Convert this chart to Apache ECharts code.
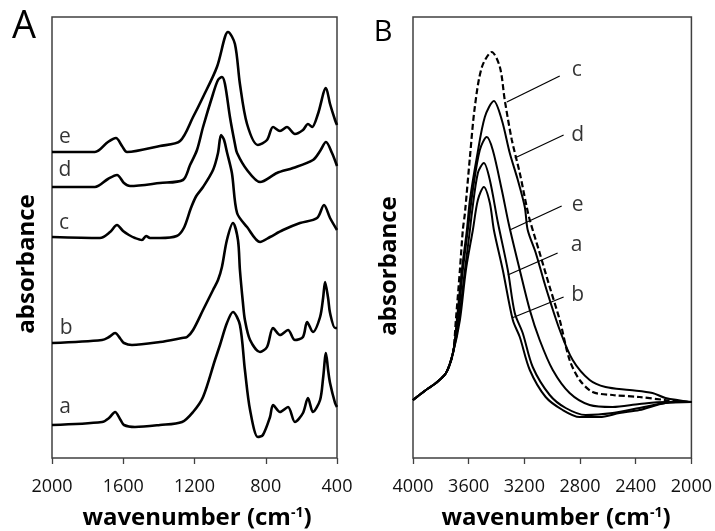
<!DOCTYPE html>
<html>
<head>
<meta charset="utf-8">
<script src="https://cdn.jsdelivr.net/npm/echarts@6.0.0/dist/echarts.min.js"></script>
<style>
html,body{margin:0;padding:0;background:#fff;}
#chart{width:715px;height:531px;}
</style>
</head>
<body>
<div id="chart"></div>
<script>
// ---------- Panel A (wavenumber 2000-400 cm-1) ----------
const ticksA = [2000, 1600, 1200, 800, 400];
const wnA_a = [2000,1719,1680,1646,1615,1596,1534,1394,1270,1208,1152,1085,1057,1018,984,945,917,888,844,816,776,759,720,675,636,591,563,535,495,478,462,450,439,411,400];
const absA_a = [33,36,40,46,38,33,31,33,36,46,61,98,113,135,146,133,88,48,21,23,41,53,46,51,36,45,60,46,58,80,105,88,75,55,51];
const wnA_b = [2000,1719,1680,1646,1615,1596,1551,1394,1270,1242,1208,1152,1096,1068,1046,1018,984,956,945,928,917,888,832,793,759,720,675,636,591,568,535,495,478,467,450,439,411,400];
const absA_b = [115,118,121,125,119,115,113,116,120,121,128,148,168,178,191,218,235,218,188,155,138,118,106,111,130,123,128,118,121,136,126,141,160,176,160,145,130,130];
const wnA_c = [2000,1731,1674,1635,1601,1568,1534,1495,1472,1450,1394,1300,1260,1220,1190,1152,1096,1068,1051,1034,1018,990,961,905,832,776,703,608,512,473,439,400];
const absA_c = [221,220,226,233,227,223,220,218,222,220,220,222,230,250,262,271,288,305,323,318,306,285,245,231,216,221,228,235,240,253,240,228];
const wnA_d = [2000,1759,1686,1635,1596,1562,1394,1265,1225,1186,1152,1096,1068,1046,1029,1001,973,961,905,832,737,647,535,495,462,428,400];
const absA_d = [271,271,279,283,275,272,275,278,293,308,331,364,378,381,374,341,314,305,288,276,285,290,298,307,316,305,292];
const wnA_e = [2000,1759,1686,1641,1607,1579,1394,1281,1208,1152,1074,1029,1012,973,945,905,844,793,759,720,681,636,591,563,540,507,462,439,411,400];
const absA_e = [306,306,316,320,312,306,312,317,341,361,391,421,426,414,374,334,313,318,331,327,331,324,328,334,331,344,370,354,338,333];
const labelsA = ['e','d','c','b','a'];
const labelWnA = [1927,1927,1933,1921,1927];
const labelAbsA = [321,288,235,130,51];

// ---------- Panel B (wavenumber 4000-2000 cm-1) ----------
const ticksB = [4000, 3600, 3200, 2800, 2400, 2000];
const wnB_a = [4000,3907,3835,3763,3713,3670,3627,3591,3577,3534,3491,3448,3391,3319,3269,3212,3140,3018,2903,2760,2566,2373,2186,2000];
const absB_a = [58,68,75,85,105,138,188,228,245,285,295,278,236,188,145,125,91,63,50,43,45,50,55,56];
const wnB_b = [4000,3907,3835,3763,3713,3663,3620,3570,3534,3491,3448,3419,3355,3283,3233,3161,3047,2925,2803,2660,2516,2373,2186,2000];
const absB_b = [58,68,75,85,105,138,188,228,258,271,255,228,188,138,121,88,61,48,41,41,45,48,55,56];
const wnB_c = [4000,3907,3835,3763,3713,3692,3663,3642,3627,3591,3556,3505,3434,3376,3341,3290,3233,3183,3161,3090,3018,2946,2875,2803,2710,2566,2373,2186,2000];
const absB_c = [58,68,75,85,105,138,188,228,245,301,351,391,406,391,358,318,285,251,238,205,171,138,98,78,66,63,61,58,56];
const wnB_d = [4000,3907,3835,3763,3713,3685,3649,3613,3591,3541,3484,3419,3362,3305,3247,3197,3176,3118,3047,2946,2853,2731,2617,2444,2280,2186,2000];
const absB_d = [58,68,75,85,105,138,188,228,258,301,341,357,338,305,278,251,228,205,171,128,98,78,71,68,65,60,56];
const wnB_e = [4000,3907,3835,3763,3713,3677,3642,3606,3570,3520,3470,3427,3362,3312,3233,3161,3090,2996,2875,2731,2566,2373,2186,2000];
const absB_e = [58,68,75,85,105,138,188,228,268,308,321,308,268,234,188,148,118,88,65,53,51,54,56,56];
const labelsB = ['c','d','e','a','b'];
const leadStartWnB = [3326,3269,3305,3319,3290];
const leadStartAbsB = [356,300,228,183,140];
const leadEndWnB = [2946,2918,2932,2961,2918];
const leadEndAbsB = [382,323,252,205,161];
const labelWnB = [2824,2817,2817,2824,2817];
const labelAbsB = [388,323,253,213,163];

const zip = (xs, ys) => xs.map((x, i) => [x, ys[i]]);
const FONT = 'Open Sans';
const INK = '#000';

function curve(name, xi, wn, ab, width, dashed) {
  return {
    name, type: 'line', xAxisIndex: xi, yAxisIndex: xi,
    data: zip(wn, ab), showSymbol: false, symbol: 'none',
    smooth: 0.3, silent: true,
    lineStyle: { color: INK, width: width, type: dashed ? [6, 3] : 'solid' }
  };
}

const series = [
  curve('a', 0, wnA_a, absA_a, 2.6),
  curve('b', 0, wnA_b, absA_b, 2.6),
  curve('c', 0, wnA_c, absA_c, 2.6),
  curve('d', 0, wnA_d, absA_d, 2.6),
  curve('e', 0, wnA_e, absA_e, 2.6),
  curve('a', 1, wnB_a, absB_a, 2),
  curve('b', 1, wnB_b, absB_b, 2),
  curve('e', 1, wnB_e, absB_e, 2),
  curve('d', 1, wnB_d, absB_d, 2),
  curve('c', 1, wnB_c, absB_c, 2.2, true),
];

// leader lines in panel B
labelsB.forEach((l, i) => {
  series.push({
    type: 'line', xAxisIndex: 1, yAxisIndex: 1, silent: true,
    data: [[leadStartWnB[i], leadStartAbsB[i]], [leadEndWnB[i], leadEndAbsB[i]]],
    symbol: 'none', lineStyle: { color: INK, width: 1.3 }
  });
});

function labelSeries(xi, names, wn, ab) {
  return {
    type: 'scatter', xAxisIndex: xi, yAxisIndex: xi, silent: true,
    symbolSize: 1, itemStyle: { color: 'rgba(0,0,0,0)' },
    data: names.map((n, i) => ({ value: [wn[i], ab[i]], name: n })),
    label: { show: true, position: 'inside', formatter: p => p.name,
      fontFamily: FONT, fontSize: 21, color: INK }
  };
}
series.push(labelSeries(0, labelsA, labelWnA, labelAbsA));
series.push(labelSeries(1, labelsB, labelWnB, labelAbsB));

function xAxis(gi, min, max) {
  return {
    gridIndex: gi, type: 'value', min, max, interval: 400, inverse: true,
    axisLine: { show: false },
    axisTick: { show: true, length: 6, inside: false, lineStyle: { color: '#404040', width: 1.3 } },
    axisLabel: { fontFamily: FONT, fontSize: 18, color: '#111', margin: 20, showMinLabel: true, showMaxLabel: true,
      formatter: v => String(v) },
    splitLine: { show: false }
  };
}
function yAxis(gi) {
  return { gridIndex: gi, type: 'value', min: 0, max: 441, show: false, splitLine: { show: false } };
}

const titleRich = {
  b: { fontFamily: FONT, fontWeight: 'bold', fontSize: 24, fill: INK },
  s: { fontFamily: FONT, fontWeight: 'bold', fontSize: 14, fill: INK, verticalAlign: 'top' }
};
function txt(x, y, text, size, weight, rot) {
  return { type: 'text', x, y, rotation: rot || 0, silent: true,
    style: { text, fontFamily: FONT, fontSize: size, fontWeight: weight, fill: INK, align: 'center', verticalAlign: 'middle' } };
}

const option = {
  animation: false,
  backgroundColor: '#fff',
  grid: [
    { left: 52, top: 17, width: 285, height: 441, show: true, borderColor: '#404040', borderWidth: 1.5, backgroundColor: 'transparent' },
    { left: 413, top: 17, width: 279, height: 441, show: true, borderColor: '#404040', borderWidth: 1.5, backgroundColor: 'transparent' }
  ],
  xAxis: [xAxis(0, 400, 2000), xAxis(1, 2000, 4000)],
  yAxis: [yAxis(0), yAxis(1)],
  series,
  graphic: [
    txt(24, 27, 'A', 38, 'normal'),
    txt(383, 33, 'B', 29, 'normal'),
    txt(27, 264, 'absorbance', 24, 'bold', Math.PI / 2),
    txt(389, 266, 'absorbance', 24, 'bold', Math.PI / 2),
    { type: 'text', x: 197, y: 518, silent: true, style: { text: '{b|wavenumber (cm}{s|-1}{b|)}', rich: titleRich, align: 'center', verticalAlign: 'middle' } },
    { type: 'text', x: 556, y: 518, silent: true, style: { text: '{b|wavenumber (cm}{s|-1}{b|)}', rich: titleRich, align: 'center', verticalAlign: 'middle' } }
  ]
};

const chart = echarts.init(document.getElementById('chart'), null, { renderer: 'canvas' });
chart.setOption(option);
</script>
</body>
</html>
